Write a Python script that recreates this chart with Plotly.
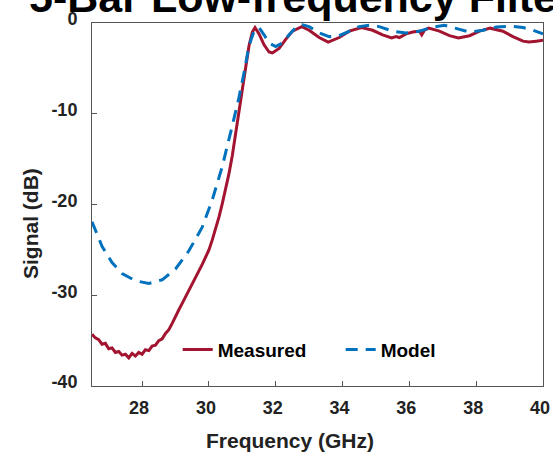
import plotly.graph_objects as go

# Measured response (GHz, dB)
meas_freq = [26.5, 26.6, 26.7, 26.8, 26.9, 27.0, 27.1, 27.2, 27.3, 27.4, 27.5, 27.6, 27.7, 27.8,
             27.9, 28.0, 28.1, 28.2, 28.3, 28.4, 28.5, 28.6, 28.7, 28.8, 28.9, 29.0, 29.1, 29.2,
             29.3, 29.4, 29.5, 29.6, 29.7, 29.8, 29.9, 30.0, 30.1, 30.2, 30.3, 30.4, 30.5, 30.6,
             30.7, 30.8, 30.9, 31.0, 31.1, 31.2, 31.3, 31.38, 31.5, 31.65, 31.8, 31.9, 32.1, 32.3,
             32.5, 32.78, 33.0, 33.3, 33.57, 33.9, 34.2, 34.57, 34.9, 35.2, 35.47, 35.6, 35.7,
             35.9, 36.1, 36.3, 36.37, 36.45, 36.58, 36.9, 37.2, 37.47, 37.8, 38.1, 38.42, 38.8,
             39.1, 39.4, 39.58, 39.8, 40.0]
meas_db = [-34.3, -34.7, -34.9, -35.4, -35.3, -35.9, -35.8, -36.3, -36.2, -36.6, -36.5, -36.9, -36.4, -36.7,
           -36.3, -36.5, -36.0, -36.1, -35.6, -35.5, -35.0, -34.8, -34.2, -33.8, -33.1, -32.3, -31.6, -30.9,
           -30.2, -29.5, -28.8, -28.1, -27.3, -26.6, -25.8, -25.0, -23.9, -22.7, -21.4, -19.9, -18.3, -16.6,
           -14.6, -12.3, -9.8, -7.4, -4.9, -2.5, -1.0, -0.5, -1.2, -2.4, -3.2, -3.3, -2.8, -1.8,
           -0.9, -0.4, -0.8, -1.6, -2.1, -1.6, -0.9, -0.5, -0.8, -1.3, -1.65, -1.5, -1.6,
           -1.2, -1.0, -0.9, -1.3, -0.8, -0.57, -0.9, -1.4, -1.66, -1.4, -0.9, -0.57, -0.9,
           -1.5, -2.0, -2.1, -2.0, -1.9]

# Model response (GHz, dB)
model_freq = [26.5, 26.8, 27.1, 27.4, 27.8, 28.2, 28.6, 29.0, 29.4, 29.8, 30.1, 30.4, 30.7, 30.9,
              31.05, 31.2, 31.35, 31.5, 31.65, 31.8, 32.0, 32.2, 32.4, 32.6, 32.8, 33.0, 33.3, 33.6,
              33.9, 34.2, 34.5, 34.8, 35.1, 35.5, 35.9, 36.3, 36.7, 37.05, 37.4, 37.8, 38.2, 38.6,
              39.0, 39.4, 39.7, 40.0]
model_db = [-21.9, -24.6, -26.4, -27.6, -28.4, -28.7, -28.3, -27.1, -25.1, -22.5, -19.5, -15.8, -11.3, -8.2,
            -5.5, -2.5, -0.9, -0.5, -1.3, -2.2, -2.6, -2.2, -1.3, -0.5, -0.2, -0.4, -1.1, -1.5,
            -1.4, -0.9, -0.4, -0.25, -0.4, -0.9, -1.1, -0.9, -0.45, -0.25, -0.6, -1.0, -0.8, -0.45,
            -0.35, -0.5, -0.8, -1.2]

x_ticks = [28, 30, 32, 34, 36, 38, 40]
y_ticks = [-40, -30, -20, -10, 0]
y_tick_labels = ["-40", "-30", "-20", "-10", "0"]

FONT = "Liberation Sans, Arial, sans-serif"
W, H = 553, 454
ML, MR, MT, MB = 92, 10, 23, 68
PW, PH = W - ML - MR, H - MT - MB

fig = go.Figure()
fig.add_trace(go.Scatter(x=meas_freq, y=meas_db, mode="lines", name="Measured",
                         line=dict(color="#A2142F", width=3)))
fig.add_trace(go.Scatter(x=model_freq, y=model_db, mode="lines", name="Model",
                         line=dict(color="#0072BD", width=3, dash="12px,8px")))

axis_common = dict(showgrid=False, zeroline=False, showline=True, linecolor="#555555",
                   linewidth=1, ticks="inside", ticklen=5, tickcolor="#555555", automargin=False,
                   mirror=True, tickfont=dict(family=FONT, size=18, color="#222222", weight="bold"))

fig.update_xaxes(range=[26.5, 40], tickvals=x_ticks, ticklabelstandoff=5, ticklabelshift=-3,
                 **axis_common)
fig.update_yaxes(range=[-40, 0], tickvals=y_ticks, ticktext=y_tick_labels, ticklabelstandoff=10,
                 ticklabelshift=-4, **axis_common)

# axis titles (placed in pixels relative to the plot area)
fig.add_annotation(text="Frequency (GHz)", xref="paper", yref="paper",
                   x=(290 - ML) / PW, y=-(440 - (MT + PH)) / PH, xanchor="center", yanchor="middle",
                   showarrow=False, font=dict(family=FONT, size=21, color="#222222", weight="bold"))
fig.add_annotation(text="Signal (dB)", xref="paper", yref="paper", textangle=-90,
                   x=-(ML - 30) / PW, y=1 - (223 - MT) / PH, xanchor="center", yanchor="middle",
                   showarrow=False, font=dict(family=FONT, size=21, color="#222222", weight="bold"))

fig.add_annotation(text="5-Bar Low-frequency Filter", xref="paper", yref="paper",
                   x=-0.145, y=1.072, xanchor="left", yanchor="middle", showarrow=False,
                   font=dict(family=FONT, size=43, color="#000000", weight="bold"))

fig.update_layout(
    width=W, height=H,
    margin=dict(l=ML, r=MR, t=MT, b=MB),
    paper_bgcolor="white", plot_bgcolor="white",
    showlegend=True,
    legend=dict(orientation="h", x=0.19, y=0.1, xanchor="left", yanchor="middle",
                bgcolor="rgba(0,0,0,0)", font=dict(family=FONT, size=19, color="#000000", weight="bold"),
                entrywidth=118, tracegroupgap=0),
)

fig.write_html("out.html", config={"displayModeBar": False},
               post_script="document.body.style.margin='0';")
